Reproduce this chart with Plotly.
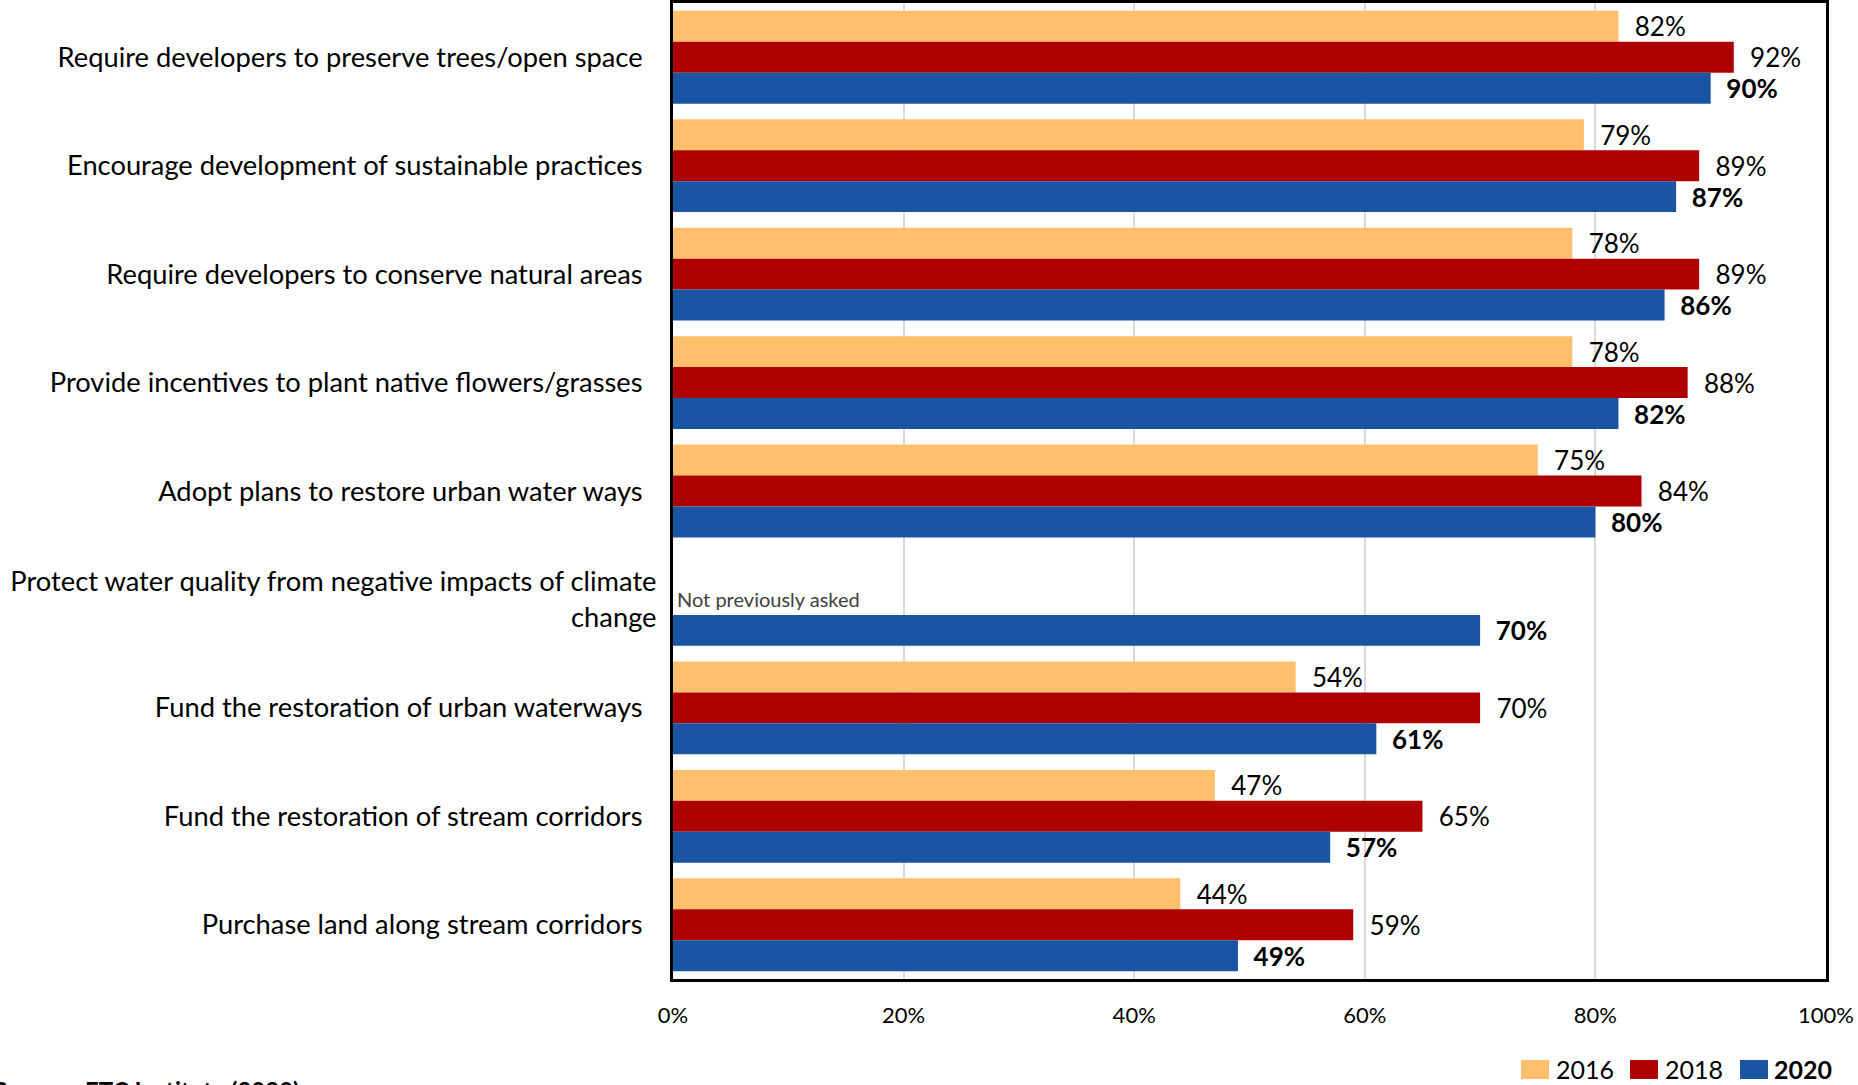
import plotly.graph_objects as go

categories = [
    "Require developers to preserve trees/open space",
    "Encourage development of sustainable practices",
    "Require developers to conserve natural areas",
    "Provide incentives to plant native flowers/grasses",
    "Adopt plans to restore urban water ways",
    "Protect water quality from negative impacts of climate<br>change",
    "Fund the restoration of urban waterways",
    "Fund the restoration of stream corridors",
    "Purchase land along stream corridors",
]
values_2016 = [82, 79, 78, 78, 75, None, 54, 47, 44]
values_2018 = [92, 89, 89, 88, 84, None, 70, 65, 59]
values_2020 = [90, 87, 86, 82, 80, 70, 61, 57, 49]
series_names = ["2016", "2018", "2020"]
colors = ["#FFBF6B", "#AE0000", "#1A55A3"]
x_ticks = [0, 20, 40, 60, 80, 100]
x_tick_labels = ["0%", "20%", "40%", "60%", "80%", "100%"]
note_text = "Not previously asked"
source_text = "Source:  ETC Institute (2020)"

W, H = 1858, 1085
L, R, T, B = 673, 32, 3, 106
PW, PH = W - L - R, H - T - B

def px(xp):
    return (xp - L) / PW

def py(yp):
    return (H - B - yp) / PH

FONT = "Lato, Calibri, Carlito, sans-serif"
pad = "\u00a0\u00a0"

# single-line labels carry trailing spaces in the source chart
tick_text = [c if "<br>" in c else c + "\u00a0\u00a0" for c in categories]

fig = go.Figure()
for name, vals, col in zip(series_names, [values_2016, values_2018, values_2020], colors):
    bold = name == "2020"
    labels = [f"{v}%" if v is not None else "" for v in vals]
    fig.add_trace(go.Bar(
        name=name, y=categories, x=vals, orientation="h",
        marker=dict(color=col, line=dict(width=0)),
        text=labels, texttemplate=pad + "%{text}", textposition="outside",
        textfont=dict(family=FONT, size=26, color="#000000",
                      weight="bold" if bold else "normal"),
        cliponaxis=False, constraintext="none", showlegend=False,
    ))

fig.update_layout(
    width=W, height=H,
    margin=dict(l=L, r=R, t=T, b=B, autoexpand=False),
    barmode="group", bargap=0.144, bargroupgap=0,
    plot_bgcolor="white", paper_bgcolor="white",
    font=dict(family=FONT, size=24, color="#000000"),
)
fig.update_xaxes(
    range=[0, 100], tickmode="array", tickvals=x_ticks, ticktext=x_tick_labels,
    showgrid=True, gridcolor="#D9D9D9", gridwidth=1.5, zeroline=False,
    showline=True, linecolor="black", linewidth=3, mirror=True,
    ticks="", tickfont=dict(family=FONT, size=22, color="#000000"),
    ticklabelstandoff=15,
)
fig.update_yaxes(
    categoryorder="array", categoryarray=categories, autorange="reversed",
    tickmode="array", tickvals=categories, ticktext=tick_text,
    showgrid=False, zeroline=False,
    showline=True, linecolor="black", linewidth=3, mirror=True,
    ticks="", tickfont=dict(family=FONT, size=27.3, color="#000000"),
    ticklabelstandoff=8,
)

# note for the row not asked earlier
fig.add_annotation(
    x=0, y=categories[5], xref="x", yref="y", text=note_text,
    showarrow=False, xanchor="left", yanchor="middle", xshift=2, yshift=0,
    font=dict(family=FONT, size=20, color="#404040"),
)

# custom legend
leg_swatch_x = [1521, 1630, 1740]
leg_text_x = [1554, 1663, 1772]
for i, name in enumerate(series_names):
    fig.add_shape(
        type="rect", xref="paper", yref="paper",
        x0=px(leg_swatch_x[i]), x1=px(leg_swatch_x[i] + 28),
        y0=py(1079), y1=py(1060),
        fillcolor=colors[i], line=dict(width=0),
    )
    fig.add_annotation(
        x=px(leg_text_x[i]), y=py(1069), xref="paper", yref="paper",
        text=f"<b>{name}</b>" if name == "2020" else name,
        showarrow=False, xanchor="left", yanchor="middle",
        font=dict(family=FONT, size=25, color="#000000"),
    )

fig.add_annotation(
    x=px(-8), y=py(1074), xref="paper", yref="paper",
    text=f"<b>{source_text}</b>", showarrow=False,
    xanchor="left", yanchor="top",
    font=dict(family=FONT, size=24, color="#000000"),
)

fig.write_html(
    "out.html",
    config={"displayModeBar": False},
    post_script="document.body.style.margin='0';document.body.style.padding='0';"
                "document.body.style.overflow='hidden';",
)
